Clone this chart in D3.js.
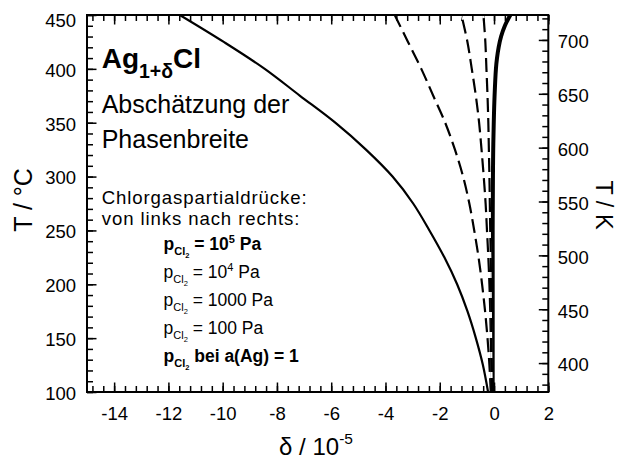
<!DOCTYPE html>
<html><head><meta charset="utf-8">
<script src="https://cdn.jsdelivr.net/npm/d3@7"></script>
<style>
html,body{margin:0;padding:0;background:#fff;}
svg{display:block;font-family:"Liberation Sans",Arial,Helvetica,sans-serif;}
text{white-space:pre;}
</style></head><body>
<svg id="chart" width="619" height="463"></svg>
<script>
// ---- data ----
const tempC = [100,125,150,175,200,225,250,275,300,325,350,375,400,425,450];
const delta_p1e5  = [-0.22,-0.41,-0.67,-0.98,-1.36,-1.83,-2.38,-2.98,-3.74,-4.72,-5.85,-7.15,-8.45,-9.96,-11.58];
const delta_p1e4  = [-0.12,-0.17,-0.24,-0.33,-0.44,-0.57,-0.73,-0.91,-1.14,-1.44,-1.80,-2.24,-2.68,-3.17,-3.66];
const delta_p1000 = [-0.09,-0.10,-0.12,-0.14,-0.17,-0.21,-0.26,-0.31,-0.38,-0.46,-0.55,-0.67,-0.82,-0.98,-1.20];
const delta_p100  = [-0.07,-0.08,-0.09,-0.10,-0.11,-0.12,-0.14,-0.155,-0.17,-0.19,-0.21,-0.24,-0.28,-0.32,-0.39];
const tempC_Ag    = [100,150,200,250,300,325,350,375,400,410,420,430,440,450];
const delta_aAg1  = [-0.05,-0.05,-0.05,-0.05,-0.04,-0.03,-0.01,0.02,0.07,0.11,0.17,0.26,0.40,0.60];

const xMajorTicks = [-14,-12,-10,-8,-6,-4,-2,0,2];
const yMajorTicksC = [100,150,200,250,300,350,400,450];
const yMajorTicksK = [400,450,500,550,600,650,700];

// ---- layout ----
const L = 87, R = 548.3, T = 15, B = 392;
const svg = d3.select("#chart");
const x = d3.scaleLinear().domain([-15, 2]).range([L, R]);
const y = d3.scaleLinear().domain([100, 450]).range([B, T]);
const yK = d3.scaleLinear().domain([373.15, 723.15]).range([B, T]);

const xMinor = d3.range(-14.8, 2.001, 0.4).map(v => +v.toFixed(2));
const yMinorC = d3.range(100, 451, 10);
const yMinorK = d3.range(380, 721, 10);

const fmt = d => String(d);
const tickFont = "18.5px";

function styleAxis(g){
  g.select(".domain").remove();
  g.selectAll(".tick line").attr("stroke","#000").attr("stroke-width",1.5);
  g.selectAll(".tick text").attr("fill","#000").style("font-size",tickFont)
   .style("font-family",'"Liberation Sans",Arial,Helvetica,sans-serif');
}

// minor ticks
svg.append("g").attr("transform",`translate(0,${B})`)
  .call(d3.axisBottom(x).tickValues(xMinor).tickSize(-6).tickFormat("")).call(styleAxis);
svg.append("g").attr("transform",`translate(0,${T})`)
  .call(d3.axisTop(x).tickValues(xMinor).tickSize(-6).tickFormat("")).call(styleAxis);
svg.append("g").attr("transform",`translate(${L},0)`)
  .call(d3.axisLeft(y).tickValues(yMinorC).tickSize(-6).tickFormat("")).call(styleAxis);
svg.append("g").attr("transform",`translate(${R},0)`)
  .call(d3.axisRight(yK).tickValues(yMinorK).tickSize(-6).tickFormat("")).call(styleAxis);

// major ticks + labels
svg.append("g").attr("transform",`translate(0,${B})`)
  .call(d3.axisBottom(x).tickValues(xMajorTicks).tickSize(-9.5).tickPadding(15).tickFormat(fmt)).call(styleAxis);
svg.append("g").attr("transform",`translate(0,${T})`)
  .call(d3.axisTop(x).tickValues(xMajorTicks).tickSize(-9.5).tickFormat("")).call(styleAxis);
const gl = svg.append("g").attr("transform",`translate(${L},0)`)
  .call(d3.axisLeft(y).tickValues(yMajorTicksC).tickSize(-9.5).tickPadding(11).tickFormat(fmt)).call(styleAxis);
gl.selectAll(".tick text").attr("dy","0.4em");
gl.selectAll(".tick").filter(d => d === 450).select("text").attr("dy","0.62em");
const gr = svg.append("g").attr("transform",`translate(${R},0)`)
  .call(d3.axisRight(yK).tickValues(yMajorTicksK).tickSize(-9.5).tickPadding(9.5).tickFormat(fmt)).call(styleAxis);
gr.selectAll(".tick text").attr("dy","0.42em");

// ---- curves ----
svg.append("clipPath").attr("id","plotclip").append("rect")
  .attr("x",L).attr("y",T).attr("width",R-L).attr("height",B-T);
const plot = svg.append("g").attr("clip-path","url(#plotclip)");
const line = d3.line().x(d => x(d[0])).y(d => y(d[1])).curve(d3.curveCatmullRom.alpha(0.5));
const zipC = arr => arr.map((v,i) => [v, tempC[i]]);

plot.append("path").datum(zipC(delta_p1e5)).attr("d",line)
  .attr("fill","none").attr("stroke","#000").attr("stroke-width",2.2);
plot.append("path").datum(delta_aAg1.map((v,i)=>[v,tempC_Ag[i]])).attr("d",line)
  .attr("fill","none").attr("stroke","#000").attr("stroke-width",4);
[delta_p1e4, delta_p1000, delta_p100].forEach(arr => {
  plot.append("path").datum(zipC(arr)).attr("d",line)
    .attr("fill","none").attr("stroke","#fff").attr("stroke-width",1.2);
  plot.append("path").datum(zipC(arr)).attr("d",line)
    .attr("fill","none").attr("stroke","#000").attr("stroke-width",2.2)
    .attr("stroke-dasharray","14,6");
});

// frame
svg.append("rect").attr("x",L).attr("y",T).attr("width",R-L).attr("height",B-T)
  .attr("fill","none").attr("stroke","#000").attr("stroke-width",2);

// ---- rich text helper ----
function rich(px, py, parts, anchor, ls){
  const t = svg.append("text").attr("x",px).attr("y",py).attr("fill","#000")
    .attr("text-anchor", anchor || "start");
  if (ls) t.style("letter-spacing", ls + "px");
  let prev = 0;
  parts.forEach(p => {
    const off = p.off || 0;
    t.append("tspan").attr("dy", off - prev).style("font-size", p.fs + "px")
      .style("font-weight", p.w || "normal").text(p.t);
    prev = off;
  });
  return t;
}

// title block
rich(101.7, 68, [{t:"Ag",fs:28,w:"bold"},{t:"1+δ",fs:19.5,w:"bold",off:10},{t:"Cl",fs:28,w:"bold",off:0}]);
rich(101.7, 113, [{t:"Abschätzung der",fs:25}]);
rich(101.7, 147.5, [{t:"Phasenbreite",fs:25}]);
rich(101.7, 203.5, [{t:"Chlorgaspartialdrücke:",fs:18.6}], null, 0.9);
rich(101.7, 224.5, [{t:"von links nach rechts:",fs:18.6}], null, 0.9);

const legendX = 163.5, fsL = 17.5;
function pcl(w){ return [{t:"p",fs:fsL,w:w},{t:"Cl",fs:11,w:w,off:5},{t:"2",fs:7.5,w:w,off:8}]; }
rich(legendX, 249.5, pcl("bold").concat([{t:" = 10",fs:fsL,w:"bold",off:0},{t:"5",fs:11,w:"bold",off:-7},{t:" Pa",fs:fsL,w:"bold",off:0}]));
rich(legendX, 277.5, pcl("normal").concat([{t:" = 10",fs:fsL,off:0},{t:"4",fs:11,off:-7},{t:" Pa",fs:fsL,off:0}]));
rich(legendX, 305.5, pcl("normal").concat([{t:" = 1000 Pa",fs:fsL,off:0}]));
rich(legendX, 333.5, pcl("normal").concat([{t:" = 100 Pa",fs:fsL,off:0}]));
rich(legendX, 361.5, pcl("bold").concat([{t:" bei a(Ag) = 1",fs:fsL,w:"bold",off:0}]));

// axis titles
rich(316, 455, [{t:"δ / 10",fs:24},{t:"-5",fs:15.5,off:-11}], "middle");
svg.append("text").attr("transform","translate(32,200) rotate(-90)").attr("text-anchor","middle")
  .style("font-size","25px").attr("fill","#000").text("T / °C");
svg.append("text").attr("transform","translate(596,205) rotate(90)").attr("text-anchor","middle")
  .style("font-size","23.5px").attr("fill","#000").text("T / K");
</script>
</body></html>
